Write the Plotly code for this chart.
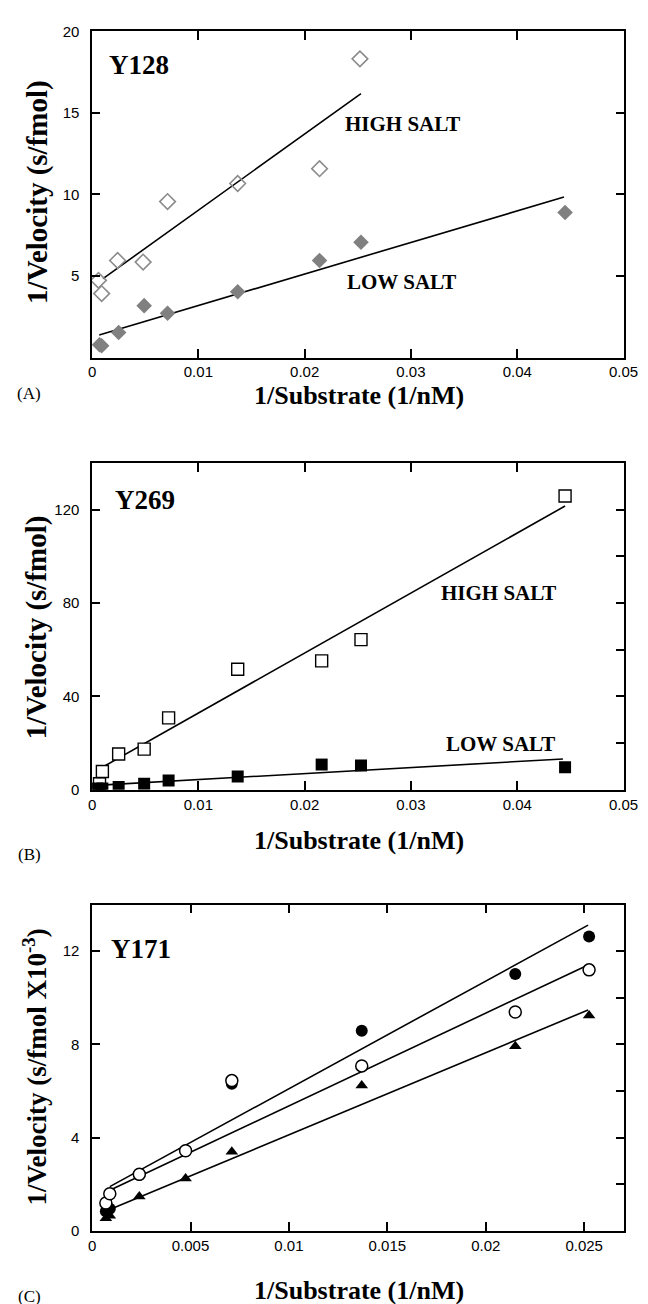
import plotly.graph_objects as go

W, H = 648, 1304

# ---------------- Panel A (Y128) ----------------
a_high_x = [0.0006, 0.0009, 0.0024, 0.0048, 0.0071, 0.0137, 0.0214, 0.0252]
a_high_y = [4.73, 3.92, 5.95, 5.85, 9.56, 10.67, 11.58, 18.31]
a_low_x = [0.0007, 0.0009, 0.0025, 0.0049, 0.0071, 0.0137, 0.0214, 0.0253, 0.0445]
a_low_y = [0.78, 0.72, 1.53, 3.18, 2.71, 4.03, 5.95, 7.07, 8.89]
a_high_fit_x = [0.00103, 0.0253]
a_high_fit_y = [4.84, 16.18]
a_low_fit_x = [0.00067, 0.0444]
a_low_fit_y = [1.38, 9.84]

# ---------------- Panel B (Y269) ----------------
b_high_x = [0.0007, 0.00097, 0.0025, 0.0049, 0.0072, 0.0137, 0.0216, 0.0253, 0.0445]
b_high_y = [2.6, 7.8, 15.3, 17.4, 30.8, 51.6, 55.2, 64.3, 125.8]
b_low_x = [0.0005, 0.00097, 0.0025, 0.0049, 0.0072, 0.0137, 0.0216, 0.0253, 0.0445]
b_low_y = [0.5, 0.5, 1.2, 2.6, 4.0, 5.7, 10.8, 10.4, 9.6]
b_high_fit_x = [0.00097, 0.0445]
b_high_fit_y = [9.65, 121.5]
b_low_fit_x = [0.0004, 0.0443]
b_low_fit_y = [1.9, 13.2]

# ---------------- Panel C (Y171) ----------------
c_x = [0.0007, 0.0009, 0.0024, 0.00475, 0.0071, 0.0137, 0.0215, 0.02525]
c_filled_circle_y = [0.85, 0.95, 2.4, 3.45, 6.31, 8.59, 11.02, 12.63]
c_open_circle_y = [1.2, 1.6, 2.43, 3.44, 6.45, 7.08, 9.39, 11.2]
c_triangle_y = [0.55, 0.65, 1.48, 2.25, 3.4, 6.24, 7.92, 9.24]
c_fit_x = [0.0009, 0.0252]
c_fit_filled_y = [1.9, 13.12]
c_fit_open_y = [1.75, 11.41]
c_fit_triangle_y = [0.92, 9.48]

# tick labels
ab_xticks = [0, 0.01, 0.02, 0.03, 0.04, 0.05]
ab_xticktext = ["0", "0.01", "0.02", "0.03", "0.04", "0.05"]
c_xticks = [0, 0.005, 0.01, 0.015, 0.02, 0.025]
c_xticktext = ["0", "0.005", "0.01", "0.015", "0.02", "0.025"]
a_yticks = [5, 10, 15, 20]
b_yticks = [0, 40, 80, 120]
c_yticks = [0, 4, 8, 12]

SANS = "Liberation Sans, Arial, sans-serif"
SERIF = "Liberation Serif, Times New Roman, serif"

fig = go.Figure()

def px_x(p):
    return p / W

def px_y(p):
    return 1 - p / H

line_style = dict(color="black", width=1.6)

# Panel A traces
fig.add_trace(go.Scatter(x=a_high_fit_x, y=a_high_fit_y, mode="lines", line=line_style, xaxis="x", yaxis="y"))
fig.add_trace(go.Scatter(x=a_low_fit_x, y=a_low_fit_y, mode="lines", line=line_style, xaxis="x", yaxis="y"))
fig.add_trace(go.Scatter(x=a_high_x, y=a_high_y, mode="markers", xaxis="x", yaxis="y",
                         marker=dict(symbol="diamond-open", size=12, color="#8c8c8c", line=dict(width=1.6))))
fig.add_trace(go.Scatter(x=a_low_x, y=a_low_y, mode="markers", xaxis="x", yaxis="y",
                         marker=dict(symbol="diamond", size=12, color="#808080", line=dict(width=0))))

# Panel B traces
fig.add_trace(go.Scatter(x=b_high_fit_x, y=b_high_fit_y, mode="lines", line=line_style, xaxis="x2", yaxis="y2"))
fig.add_trace(go.Scatter(x=b_low_fit_x, y=b_low_fit_y, mode="lines", line=line_style, xaxis="x2", yaxis="y2"))
fig.add_trace(go.Scatter(x=b_high_x, y=b_high_y, mode="markers", xaxis="x2", yaxis="y2",
                         marker=dict(symbol="square", size=12, color="white", line=dict(width=1.4, color="black"))))
fig.add_trace(go.Scatter(x=b_low_x, y=b_low_y, mode="markers", xaxis="x2", yaxis="y2",
                         marker=dict(symbol="square", size=12, color="black", line=dict(width=0))))

# Panel C traces
fig.add_trace(go.Scatter(x=c_fit_x, y=c_fit_filled_y, mode="lines", line=line_style, xaxis="x3", yaxis="y3"))
fig.add_trace(go.Scatter(x=c_fit_x, y=c_fit_open_y, mode="lines", line=line_style, xaxis="x3", yaxis="y3"))
fig.add_trace(go.Scatter(x=c_fit_x, y=c_fit_triangle_y, mode="lines", line=line_style, xaxis="x3", yaxis="y3"))
fig.add_trace(go.Scatter(x=c_x, y=c_filled_circle_y, mode="markers", xaxis="x3", yaxis="y3",
                         marker=dict(symbol="circle", size=12, color="black", line=dict(width=0))))
fig.add_trace(go.Scatter(x=c_x, y=c_open_circle_y, mode="markers", xaxis="x3", yaxis="y3",
                         marker=dict(symbol="circle", size=12, color="white", line=dict(width=1.5, color="black"))))
fig.add_trace(go.Scatter(x=c_x, y=c_triangle_y, mode="markers", xaxis="x3", yaxis="y3",
                         marker=dict(symbol="triangle-up", size=11, color="black", line=dict(width=0))))

# invisible traces to activate right-side tick axes
fig.add_trace(go.Scatter(x=[0.01], y=[50], xaxis="x2", yaxis="y4", mode="markers",
                         marker=dict(opacity=0), hoverinfo="skip"))
fig.add_trace(go.Scatter(x=[0.01], y=[5], xaxis="x3", yaxis="y5", mode="markers",
                         marker=dict(opacity=0), hoverinfo="skip"))

xdom = [px_x(82.5), px_x(630)]
a_dom = [px_y(345), px_y(14.5)]
b_dom = [px_y(783), px_y(451.7)]
c_dom = [px_y(1230), px_y(899.3)]

tickfont = dict(family=SANS, size=15, color="black")

def xax(dom_y_anchor, rng, tv, tt):
    return dict(domain=xdom, range=rng, anchor=dom_y_anchor, tickvals=tv, ticktext=tt,
                showline=True, linecolor="black", linewidth=1.5, mirror="ticks",
                ticks="inside", ticklen=9, tickwidth=1.5, tickcolor="black",
                showgrid=False, zeroline=False, tickfont=tickfont, ticklabelstandoff=0,
                fixedrange=True)

def yax(dom, anchor, rng, tv, mirror="ticks"):
    return dict(domain=dom, range=rng, anchor=anchor, tickvals=tv,
                showline=True, linecolor="black", linewidth=1.5, mirror=mirror,
                ticks="inside", ticklen=8, tickwidth=1.5, tickcolor="black",
                showgrid=False, zeroline=False, tickfont=tickfont, ticklabelstandoff=8,
                fixedrange=True)

fig.update_layout(
    width=W, height=H,
    margin=dict(l=0, r=0, t=0, b=0),
    paper_bgcolor="white", plot_bgcolor="white",
    showlegend=False,
    xaxis=xax("y", [0, 0.05], ab_xticks, ab_xticktext),
    yaxis=yax(a_dom, "x", [0, 20], a_yticks),
    xaxis2=xax("y2", [0, 0.05], ab_xticks, ab_xticktext),
    yaxis2=yax(b_dom, "x2", [0, 140], b_yticks, mirror=True),
    xaxis3=xax("y3", [0, 0.027], c_xticks, c_xticktext),
    yaxis3=yax(c_dom, "x3", [0, 14], c_yticks, mirror=True),
    yaxis4=dict(overlaying="y2", anchor="x2", side="right", range=[0, 140], dtick=20,
                showticklabels=False, ticks="inside", ticklen=8, tickwidth=1.5, tickcolor="black",
                showline=False, showgrid=False, zeroline=False, fixedrange=True),
    yaxis5=dict(overlaying="y3", anchor="x3", side="right", range=[0, 14], dtick=2,
                showticklabels=False, ticks="inside", ticklen=8, tickwidth=1.5, tickcolor="black",
                showline=False, showgrid=False, zeroline=False, fixedrange=True),
)

ann = []
xtitle_font = dict(family=SERIF, size=26, color="black")
ytitle_font = dict(family=SERIF, size=29, color="black")
# axis titles
for yc in [384, 834, 1290]:
    ann.append(dict(text="<b>1/Substrate (1/nM)</b>", x=px_x(357), y=px_y(yc), xref="paper", yref="paper",
                    showarrow=False, font=xtitle_font, xanchor="center", yanchor="middle"))
ann.append(dict(text="<b>1/Velocity (s/fmol)</b>", x=px_x(26), y=px_y(177), xref="paper", yref="paper",
                showarrow=False, font=ytitle_font, textangle=-90, xanchor="center", yanchor="middle"))
ann.append(dict(text="<b>1/Velocity (s/fmol)</b>", x=px_x(26), y=px_y(618), xref="paper", yref="paper",
                showarrow=False, font=ytitle_font, textangle=-90, xanchor="center", yanchor="middle"))
ann.append(dict(text="<b>1/Velocity (s/fmol X10<sup>-3</sup>)</b>", x=px_x(24), y=px_y(1064), xref="paper", yref="paper",
                showarrow=False, font=dict(family=SERIF, size=27, color="black"), textangle=-90,
                xanchor="center", yanchor="middle"))
# panel labels
for lab, yc in [("(A)", 381), ("(B)", 849), ("(C)", 1296)]:
    ann.append(dict(text=lab, x=px_x(18), y=px_y(yc), xref="paper", yref="paper", showarrow=False,
                    font=dict(family=SERIF, size=17, color="black"), xanchor="center", yanchor="middle"))
# in-plot labels
big = dict(family=SERIF, size=27, color="black")
lbl = dict(family=SERIF, size=21, color="black")
ann.append(dict(text="<b>Y128</b>", x=0.0044, y=17.95, xref="x", yref="y", showarrow=False, font=big))
ann.append(dict(text="<b>HIGH SALT</b>", x=0.0292, y=14.33, xref="x", yref="y", showarrow=False, font=lbl))
ann.append(dict(text="<b>LOW SALT</b>", x=0.0291, y=4.65, xref="x", yref="y", showarrow=False, font=lbl))
ann.append(dict(text="<b>Y269</b>", x=0.0050, y=123.9, xref="x2", yref="y2", showarrow=False, font=big))
ann.append(dict(text="<b>HIGH SALT</b>", x=0.0382, y=84.4, xref="x2", yref="y2", showarrow=False, font=lbl))
ann.append(dict(text="<b>LOW SALT</b>", x=0.0384, y=19.8, xref="x2", yref="y2", showarrow=False, font=lbl))
ann.append(dict(text="<b>Y171</b>", x=0.0025, y=12.1, xref="x3", yref="y3", showarrow=False, font=big))
fig.update_layout(annotations=ann)

fig.write_html("out.html")
